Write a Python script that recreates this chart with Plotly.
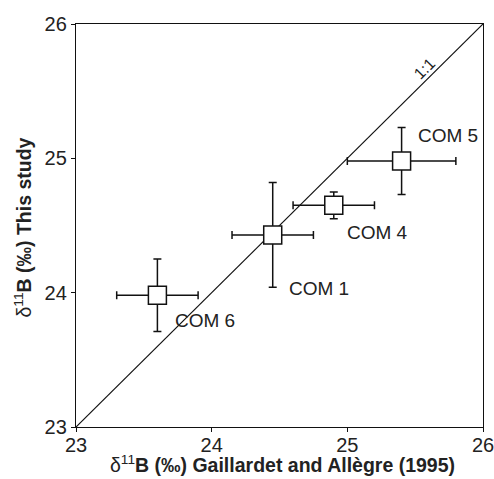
import plotly.graph_objects as go

labels = ["COM 6", "COM 1", "COM 4", "COM 5"]
x_ga = [23.60, 24.45, 24.90, 25.40]
x_err = [0.30, 0.30, 0.30, 0.40]
y_study = [23.98, 24.43, 24.65, 24.98]
y_err = [0.27, 0.39, 0.10, 0.25]
line_11 = [23, 26]
ticks = [23, 24, 25, 26]

x_title = "δ<sup>11</sup><b>B (‰) Gaillardet and Allègre (1995)</b>"
y_title = "δ<sup>11</sup><b>B (‰) This study</b>"

# label offsets in pixels (layout, not data)
label_dx = [16, 14, 11, 14]
label_dy = [-25, -54, -27, 26]

FONT = "Liberation Sans, Arial, sans-serif"

fig = go.Figure()
fig.add_trace(go.Scatter(x=line_11, y=line_11, mode="lines",
                         line=dict(color="#111", width=1.2),
                         hoverinfo="skip", showlegend=False))
fig.add_trace(go.Scatter(
    x=x_ga, y=y_study, mode="markers",
    marker=dict(symbol="square", size=18, color="white",
                line=dict(color="#111", width=1.5)),
    error_x=dict(type="data", array=x_err, visible=True, color="#111", thickness=1.5, width=4),
    error_y=dict(type="data", array=y_err, visible=True, color="#111", thickness=1.5, width=4),
    showlegend=False))

for lab, xv, yv, dx, dy in zip(labels, x_ga, y_study, label_dx, label_dy):
    fig.add_annotation(x=xv, y=yv, text=lab, showarrow=False, xanchor="left", yanchor="middle",
                       xshift=dx, yshift=dy, font=dict(family=FONT, size=19, color="#222"))

fig.add_annotation(x=25.62, y=25.62, text="1:1", showarrow=False, textangle=-45,
                   xshift=-7, yshift=7, font=dict(family=FONT, size=16, color="#222"))

fig.add_annotation(x=0.5, y=0, xref="paper", yref="paper", text=x_title, showarrow=False,
                   xanchor="center", yanchor="bottom", xshift=3, yshift=-51,
                   font=dict(family=FONT, size=19.5, color="#222"))
fig.add_annotation(x=0, y=0.5, xref="paper", yref="paper", text=y_title, showarrow=False,
                   textangle=-90, xanchor="center", yanchor="middle", xshift=-54, yshift=-2,
                   font=dict(family=FONT, size=19.5, color="#222"))

axis_common = dict(range=[23, 26], tickvals=ticks, showgrid=False, zeroline=False,
                   showline=True, linecolor="#111", linewidth=1.3, mirror=True,
                   ticks="outside", ticklen=4, tickwidth=1.2, tickcolor="#111",
                   automargin=False, ticklabeloverflow="allow",
                   tickfont=dict(family=FONT, size=20, color="#222"))

fig.update_layout(
    width=494, height=479,
    margin=dict(l=76, r=11, t=24, b=52),
    plot_bgcolor="white", paper_bgcolor="white",
    xaxis=dict(**axis_common, ticklabelstandoff=-4),
    yaxis=dict(**axis_common),
)

fig.write_html("out.html")
